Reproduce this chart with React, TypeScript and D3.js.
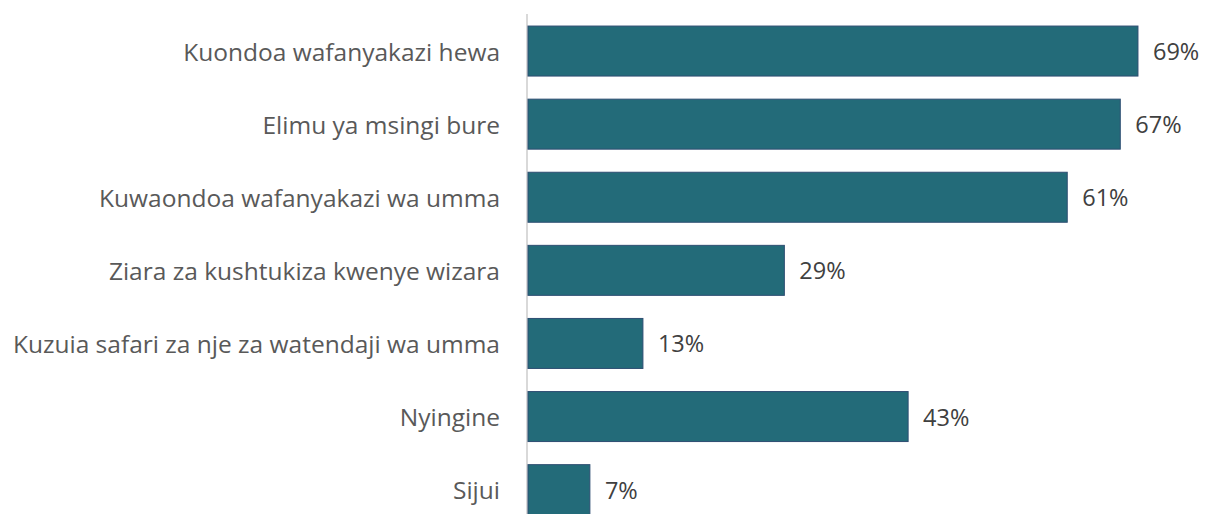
import React from "react";
import * as d3 from "d3";

const categories = [
  "Kuondoa wafanyakazi hewa",
  "Elimu ya msingi bure",
  "Kuwaondoa wafanyakazi wa umma",
  "Ziara za kushtukiza kwenye wizara",
  "Kuzuia safari za nje za watendaji wa umma",
  "Nyingine",
  "Sijui",
];
const values = [69, 67, 61, 29, 13, 43, 7];

const W = 1205;
const H = 514;
const x0 = 528;
const FONT = "'Open Sans', sans-serif";

export default function App() {
  const x = d3.scaleLinear().domain([0, 100]).range([x0, x0 + 884]);
  const y = d3
    .scaleBand<string>()
    .domain(categories)
    .range([14.5, 14.5 + 73.1 * 7])
    .paddingInner(0.316)
    .paddingOuter(0.158);
  return (
    <svg
      width={W}
      height={H}
      style={{ position: "absolute", left: 0, top: 0, background: "#fff" }}
    >
      <line x1={x0 - 1} x2={x0 - 1} y1={14} y2={H} stroke="#d9d9d9" strokeWidth={2} />
      {categories.map((c, i) => {
        const yy = y(c)!;
        const bh = y.bandwidth();
        return (
          <g key={c}>
            <rect
              x={x(0)}
              y={yy}
              width={x(values[i]) - x(0)}
              height={bh}
              fill="#236b79"
              stroke="#2e4e72"
              strokeWidth={1}
            />
            <text
              x={x0 - 28}
              y={yy + bh / 2}
              textAnchor="end"
              dominantBaseline="central"
              fontFamily={FONT}
              fontSize={24.5}
              fill="#595959"
            >
              {c}
            </text>
            <text
              x={x(values[i]) + 15}
              y={yy + bh / 2}
              dominantBaseline="central"
              fontFamily={FONT}
              fontSize={23.5}
              fill="#404040"
            >
              {values[i]}%
            </text>
          </g>
        );
      })}
    </svg>
  );
}
